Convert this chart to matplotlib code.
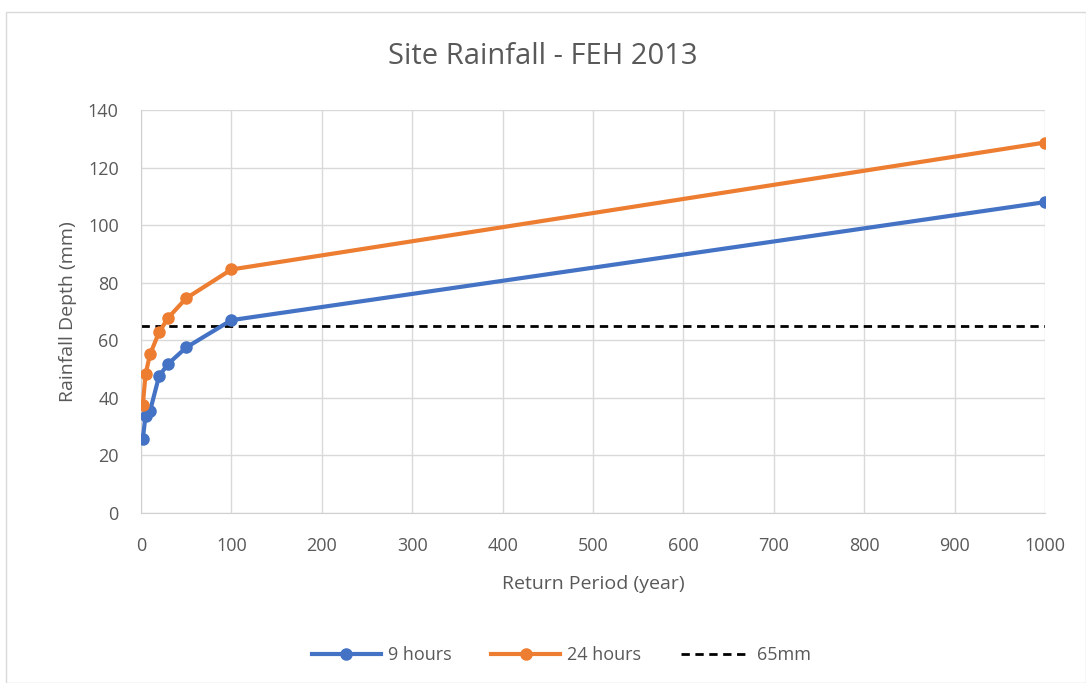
import matplotlib
matplotlib.use("Agg")
import matplotlib.pyplot as plt
from matplotlib.patches import Rectangle

return_period = [2, 5, 10, 20, 30, 50, 100, 1000]
depth_9h = [25.7, 33.8, 35.4, 47.6, 51.8, 57.5, 67.0, 108.0]
depth_24h = [37.5, 48.2, 55.1, 62.8, 67.8, 74.6, 84.6, 128.7]
threshold = 65
x_ticks = list(range(0, 1001, 100))
y_ticks = list(range(0, 141, 20))

plt.rcParams['font.family'] = ['Open Sans', 'DejaVu Sans']
grey = '#595959'

fig = plt.figure(figsize=(10.86, 6.83), dpi=100)
ax = fig.add_axes([141/1086, 1 - 513/683, (1045-141)/1086, (513-110)/683])

blue = '#4472C4'
orange = '#ED7D31'
ax.plot(return_period, depth_9h, color=blue, lw=3, marker='o', ms=8, label='9 hours', zorder=3)
ax.plot(return_period, depth_24h, color=orange, lw=3, marker='o', ms=8, label='24 hours', zorder=3)
ax.axhline(threshold, color='black', lw=2, ls=(0, (3, 2)), label='65mm', zorder=2)

ax.set_xlim(0, 1000)
ax.set_ylim(0, 140)
ax.set_xticks(x_ticks)
ax.set_yticks(y_ticks)
ax.grid(True, color='#d9d9d9', lw=1)
ax.set_axisbelow(True)
for s in ['top', 'right']:
    ax.spines[s].set_visible(False)
ax.spines['bottom'].set_color('#d0d0d0')
ax.spines['left'].set_color('#d0d0d0')
ax.tick_params(length=0, labelsize=13, colors=grey)
ax.tick_params(axis='x', pad=17)
ax.tick_params(axis='y', pad=16)

ax.set_xlabel('Return Period (year)', fontsize=14, color=grey, labelpad=15)
ax.set_ylabel('Rainfall Depth (mm)', fontsize=14, color=grey, labelpad=8)
fig.text(0.5, 1 - 57/683, 'Site Rainfall - FEH 2013', ha='center', va='center', fontsize=21, color=grey)

leg = fig.legend(loc='center', bbox_to_anchor=(0.517, 1 - 655/683), ncol=3, frameon=False,
                 fontsize=13, handlelength=3.8, columnspacing=2.2, handletextpad=0.4)
for t in leg.get_texts():
    t.set_color(grey)

fig.patches.append(Rectangle((6/1086, 0), 1 - 6/1086, 1 - 12/683, transform=fig.transFigure,
                             fill=False, edgecolor='#d9d9d9', lw=1))

fig.savefig('out.png', dpi=100)
